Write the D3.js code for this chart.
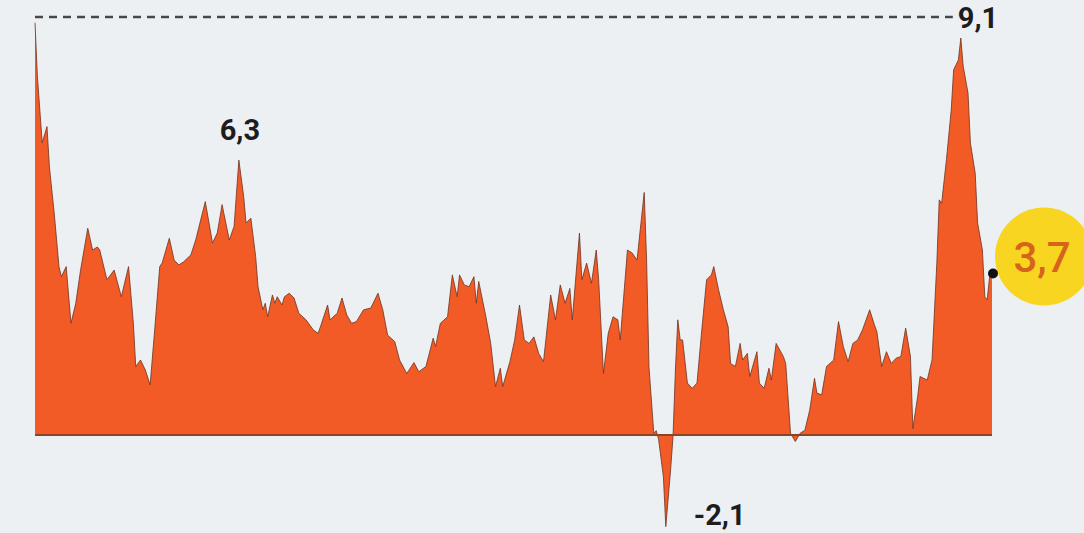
<!DOCTYPE html>
<meta charset="utf-8">
<style>
body { margin: 0; background: #edf0f3; }
svg { display: block; }
.area { fill: #f25a26; }
.topline { fill: none; stroke: #6e3320; stroke-width: 1; stroke-opacity: 0.8; }
.baseline { stroke: #8a4426; stroke-width: 2; }
.refline { stroke: #45474a; stroke-width: 2.5; stroke-dasharray: 8,6; }
.lbl { font-family: Roboto, sans-serif; font-weight: 700; font-size: 29px; fill: #1d1d1f; }
.last { font-family: Roboto, sans-serif; font-weight: 500; font-size: 42px; fill: #d6641c; }
</style>
<svg width="1084" height="533"></svg>
<script src="https://d3js.org/d3.v7.min.js"></script>
<script>

// month index (0 = first month shown) and rate
var months = [0,1,3,5,6,8,10,11,13,15,17,19,22,24,26,27,30,33,36,39,41,42,44,46,48,50,52,53,56,58,60,62,65,67,71,74,76,78,81,83,85,87,88,90,92,93,95,96,97,99,100,101,103,104,106,108,110,113,116,118,119,122,123,126,128,130,132,134,137,140,143,145,147,150,152,155,158,160,163,166,167,169,172,174,176,177,179,181,183,184,185,188,190,192,194,195,198,200,202,204,206,208,210,212,215,217,219,221,223,224,227,228,230,232,234,235,237,239,241,243,244,247,249,251,254,255,256,258,259,260,262,263,265,266,267,268,269,270,272,274,276,278,280,282,283,285,287,289,290,292,294,295,297,298,301,302,304,306,307,309,312,313,315,317,319,321,323,325,326,328,330,333,335,337,339,341,343,345,348,350,351,353,355,357,359,361,363,365,366,368,369,372,374,376,377,378,380,382,383,385,386,387,389,390,392,393,395,396,397,398,399];
var values = [9.45,8.22,6.70,7.07,6.15,5.09,3.86,3.63,3.86,2.56,3.02,3.78,4.74,4.24,4.31,4.24,3.56,3.78,3.17,3.86,2.57,1.57,1.72,1.49,1.15,2.48,3.86,3.94,4.51,4.01,3.90,3.97,4.13,4.47,5.35,4.40,4.63,5.28,4.47,4.78,6.3,5.47,4.86,4.97,4.09,3.40,2.87,3.02,2.71,3.21,3.02,3.17,2.98,3.17,3.25,3.14,2.79,2.64,2.41,2.33,2.48,2.98,2.64,2.79,3.14,2.75,2.56,2.60,2.87,2.91,3.25,2.87,2.29,2.14,1.72,1.41,1.66,1.45,1.57,2.22,2.03,2.56,2.71,3.67,3.17,3.67,3.44,3.40,3.63,3.02,3.52,2.71,2.10,1.11,1.53,1.11,1.68,2.18,2.98,2.18,2.10,2.25,1.87,1.68,3.21,2.64,3.44,3.02,3.36,2.64,4.63,3.56,3.94,3.48,4.24,3.56,1.41,2.33,2.71,2.64,2.18,4.24,4.17,4.01,5.56,4.00,1.55,0.04,0.10,-0.10,-0.96,-2.1,-0.80,-0.04,1.49,2.64,2.18,2.18,1.19,1.07,1.19,2.41,3.56,3.67,3.86,3.33,2.87,2.48,1.64,1.57,2.10,1.72,1.87,1.34,1.91,1.19,1.07,1.53,1.26,2.10,1.80,1.64,0.04,-0.15,0.04,0.11,0.57,1.30,0.96,0.92,1.57,1.72,2.60,2.03,1.68,2.10,2.18,2.41,2.87,2.52,2.37,1.57,1.91,1.64,1.76,1.80,2.45,1.80,0.15,0.88,1.34,1.26,1.72,3.94,5.39,5.31,6.31,7.45,8.37,8.60,9.1,8.45,7.84,6.69,6.00,4.86,4.24,3.17,3.10,3.63,3.7];

// highlighted points: month, text, where the text goes
var notes = [
  {month: 85, text: "6,3", dx: 1, dy: -20, anchor: "middle"},
  {month: 386, text: "9,1", dx: -3, dy: -10, anchor: "start"},
  {month: 263, text: "-2,1", dx: 28, dy: -2, anchor: "start"}
];
var peakMonth = 386;

var data = months.map(function(m, i) { return {m: m, v: values[i]}; });

var svg = d3.select("svg");

var x = d3.scaleLinear().domain([0, 399]).range([35, 992]);
var y = d3.scaleLinear().domain([0, 9.1]).range([435, 38]);

var area = d3.area()
    .x(function(d) { return x(d.m); })
    .y0(y(0))
    .y1(function(d) { return y(d.v); });

var line = d3.line()
    .x(function(d) { return x(d.m); })
    .y(function(d) { return y(d.v); });

svg.append("path").datum(data).attr("class", "area").attr("d", area);
svg.append("path").datum(data).attr("class", "topline").attr("d", line);

svg.append("line")
    .attr("class", "baseline")
    .attr("x1", x(0)).attr("x2", x(399))
    .attr("y1", y(0)).attr("y2", y(0));

// dashed reference running to the 9,1 label
var peak = data[months.indexOf(peakMonth)];
svg.append("line")
    .attr("class", "refline")
    .attr("x1", x(0)).attr("x2", x(peak.m) - 8)
    .attr("y1", y(peak.v) - 21).attr("y2", y(peak.v) - 21);

notes.forEach(function(n) {
  var d = data[months.indexOf(n.month)];
  svg.append("text")
      .attr("class", "lbl")
      .attr("x", x(d.m) + n.dx)
      .attr("y", y(d.v) + n.dy)
      .attr("text-anchor", n.anchor)
      .text(n.text);
});

// last value
var last = data[data.length - 1];
svg.append("circle")
    .attr("cx", x(last.m) + 52).attr("cy", y(last.v) - 17)
    .attr("r", 49)
    .attr("fill", "#f8d520");
svg.append("circle")
    .attr("cx", x(last.m) + 1).attr("cy", y(last.v))
    .attr("r", 5)
    .attr("fill", "#111");
svg.append("text")
    .attr("class", "last")
    .attr("x", x(last.m) + 50).attr("y", y(last.v) - 2)
    .attr("text-anchor", "middle")
    .text("3,7");

</script>
